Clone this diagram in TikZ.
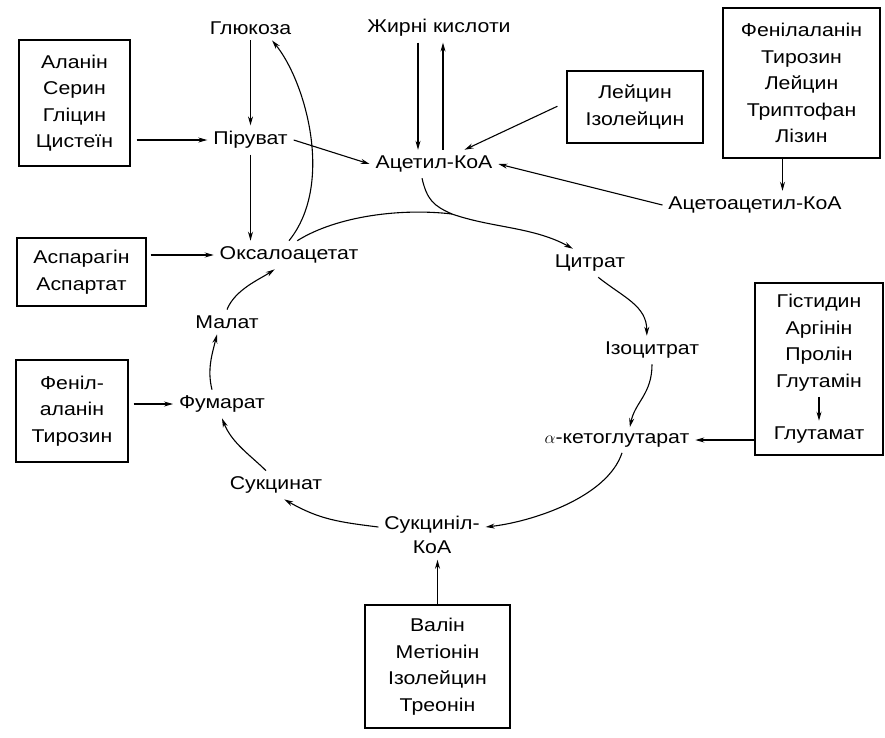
\documentclass[tikz,border=0pt]{standalone}
\usepackage{fontspec}
\setmainfont{Liberation Sans}[FakeStretch=1.15]
\usetikzlibrary{arrows.meta}

\begin{document}
\begin{tikzpicture}[x=1pt, y=-1pt,
    every node/.style={font=\fontsize{18.5}{26.5}\selectfont},
    lbl/.style={inner sep=2pt, outer sep=4pt},
    box/.style={draw, line width=1.1pt, align=center, inner sep=0pt},
    arr/.style={-{Stealth[length=9pt, width=5pt]}, line width=1.1pt}]
      \useasboundingbox (0, 0) rectangle (885, 737);

      % Boxes of amino acids
      \node[box, minimum width=111, minimum height=126] (alabox) at ( 74.5, 103)
        {Аланін\\Серин\\Гліцин\\Цистеїн};
      \node[box, minimum width=136, minimum height=72] (leubox) at (635, 107)
        {Лейцин\\Ізолейцин};
      \node[box, minimum width=157, minimum height=150] (phebox) at (801.5, 83)
        {Фенілаланін\\Тирозин\\Лейцин\\Триптофан\\Лізин};
      \node[box, minimum width=129, minimum height=68] (aspbox) at ( 81.5, 272)
        {Аспарагін\\Аспартат};
      \node[box, minimum width=112, minimum height=102] (fenbox) at ( 72, 411)
        {Феніл-\\аланін\\Тирозин};
      \node[box, minimum width=145, minimum height=123] (valbox) at (437.5, 666.5)
        {Валін\\Метіонін\\Ізолейцин\\Треонін};
      \node[box, minimum width=128, minimum height=172] (gbox) at (819, 369) {};
      \node[lbl, align=center] (gis) at (819, 342.5) {Гістидин\\Аргінін\\Пролін\\Глутамін};
      \node[lbl] (glt) at (819, 435) {Глутамат};

      % Metabolites
      \node[lbl] (glu) at (250.5,  28) {Глюкоза};
      \node[lbl] (fat) at (439,  28) {Жирні кислоти};
      \node[lbl] (pyr) at (250.5, 140) {Піруват};
      \node[lbl] (acc) at (434, 164) {Ацетил-КоА};
      \node[lbl] (aca) at (755, 205) {Ацетоацетил-КоА};

      % Cycle
      \node[lbl] (oxa) at (289, 255) {Оксалоацетат};
      \node[lbl] (cit) at (590, 263) {Цитрат};
      \node[lbl] (izo) at (652, 350) {Ізоцитрат};
      \node[lbl] (akg) at (617, 440) {$\alpha$-кетоглутарат};
      \node[lbl, align=center, font=\fontsize{18.5}{24}\selectfont] (sco) at (432, 535)
        {Сукциніл-\\КоА};
      \node[lbl] (suc) at (276, 485) {Сукцинат};
      \node[lbl] (fum) at (222, 404) {Фумарат};
      \node[lbl] (mal) at (227, 322) {Малат};
      \coordinate (m) at (452, 214);

      % Straight arrows
      \draw[arr] (glu) -- (pyr);
      \draw[arr] (pyr.south) -- (pyr.south |- oxa.north);
      \draw[arr, shorten <=6pt] (alabox.east |- pyr.west) -- (pyr.west);
      \draw[arr] (pyr.east) -- (acc.west);
      \draw[arr] ([xshift=-21]fat.south) -- ([xshift=-21]fat.south |- acc.north);
      \draw[arr] ([xshift=4]fat.south |- acc.north) -- ([xshift=4]fat.south);
      \draw[arr, shorten <=10pt] ([yshift=5]leubox.west) -- (acc.25);
      \draw[arr] ([xshift=-19]phebox.south) -- ([xshift=-19]phebox.south |- aca.north);
      \draw[arr] (aca.west) -- (acc.east);
      \draw[arr, shorten <=4pt] (aspbox.east |- oxa.west) -- (oxa.west);
      \draw[arr, shorten <=5pt] (fenbox.east |- fum.west) -- (fum.west);
      \draw[arr] (gbox.west |- akg.east) -- (akg.east);
      \draw[arr] (gis.south) -- (glt.north);
      \draw[arr] (valbox.north) -- (valbox.north |- sco.south);

      % Curved arrows
      \draw[arr] (oxa.north) .. controls +(46,-57) and +(33,40) .. (glu.-30);
      \draw[line width=1.1pt] (oxa.60) .. controls +(40,-25) and +(-50,-6) .. (m);
      \draw[arr] ([xshift=-12]acc.south) .. controls +(5,22) and +(-18,-8) .. (m)
        .. controls +(40,14) and +(-40,-22) .. (cit.140);
      \draw[arr] (cit.-60) .. controls +(25,20) and +(0,-30) .. (izo.110);
      \draw[arr] (izo.south) .. controls +(0,30) and +(5,-25) .. (akg.45);
      \draw[arr] ([xshift=5]akg.south) .. controls +(-15,45) and +(45,-5) .. ([yshift=8]sco.east);
      \draw[arr] ([yshift=8]sco.west) .. controls +(-40,-5) and +(35,20) .. (suc.-60);
      \draw[arr] (suc.125) .. controls +(-15,-15) and +(10,25) .. (fum.south);
      \draw[arr] ([xshift=-10]fum.north) .. controls +(-5,-20) and +(-5,20) .. ([xshift=-10]mal.south);
      \draw[arr] (mal.north) .. controls +(8,-20) and +(-15,10) .. (oxa.-135);
    \end{tikzpicture}
\end{document}
